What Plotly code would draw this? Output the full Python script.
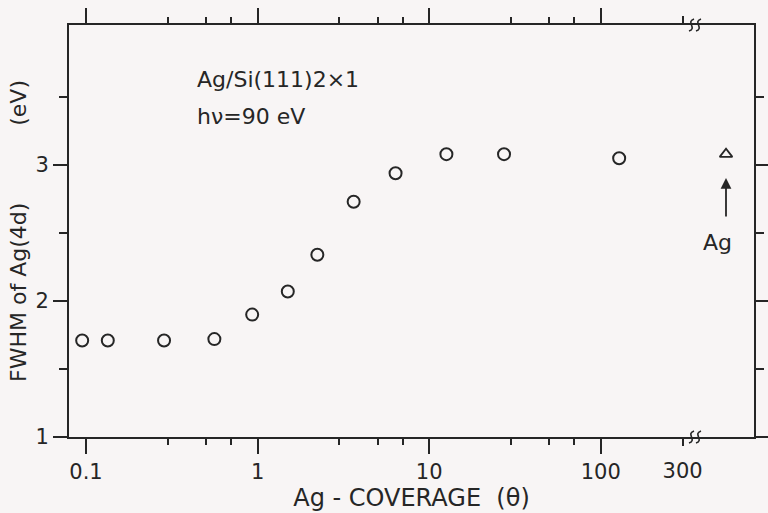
import plotly.graph_objects as go

# ---- data ----
coverage = [0.095, 0.134, 0.285, 0.56, 0.93, 1.5, 2.23, 3.63, 6.37, 12.6, 27.3, 128]
fwhm = [1.71, 1.71, 1.71, 1.72, 1.90, 2.07, 2.34, 2.73, 2.94, 3.08, 3.08, 3.05]
bulk_pos = [537]      # bulk Ag plotted beyond the axis break
bulk_fwhm = [3.08]

major_x = [0.1, 1, 10, 100]
major_x_text = ["0.1", "1", "10", "100"]
minor_x = [0.3, 0.5, 0.7, 3, 5, 7, 30, 50, 70]
extra_x = [300]
extra_x_text = ["300"]
major_y = [1, 2, 3]
minor_y = [1.5, 2.5, 3.5]

W, H = 768, 513
L, R, T, B = 69, 14, 25, 76
INK = "#262626"
BG = "#f8f5f5"
FONT = "DejaVu Sans"

fig = go.Figure()
fig.add_trace(go.Scatter(
    x=coverage, y=fwhm, mode="markers",
    marker=dict(symbol="circle-open", size=12, color=INK, line=dict(width=2, color=INK)),
    showlegend=False, hoverinfo="skip"))
fig.add_trace(go.Scatter(
    x=bulk_pos, y=bulk_fwhm, mode="markers",
    marker=dict(symbol="triangle-up-open", size=11, color=INK, line=dict(width=1.8, color=INK)),
    showlegend=False, hoverinfo="skip"))

xr = [-1.099, 2.893]
fig.update_layout(
    width=W, height=H,
    margin=dict(l=L, r=R, t=T, b=B, autoexpand=False),
    paper_bgcolor=BG, plot_bgcolor=BG,
    font=dict(family=FONT, color=INK, size=21),
    xaxis=dict(
        type="log", range=xr, showgrid=False, zeroline=False,
        showline=True, linecolor=INK, linewidth=2, mirror="ticks",
        tickmode="array", tickvals=major_x, ticktext=major_x_text,
        ticks="outside", ticklen=15, tickwidth=2, tickcolor=INK,
        ticklabelstandoff=0,
        tickfont=dict(size=21),
        minor=dict(tickmode="array", tickvals=minor_x, ticks="outside",
                   ticklen=6, tickwidth=1.6, tickcolor=INK, showgrid=False),
        title=dict(text="Ag\u00a0-\u00a0COVERAGE\u00a0\u00a0(θ)", font=dict(size=24), standoff=0),
    ),
    xaxis2=dict(
        type="log", range=xr, overlaying="x", anchor="y", side="bottom",
        showgrid=False, zeroline=False, showline=False, mirror="ticks",
        tickmode="array", tickvals=extra_x, ticktext=extra_x_text,
        ticks="outside", ticklen=8, tickwidth=1.6, tickcolor=INK,
        ticklabelstandoff=7, tickfont=dict(size=21),
    ),
    yaxis=dict(
        range=[1, 4.03], showgrid=False, zeroline=False,
        showline=True, linecolor=INK, linewidth=2, mirror="ticks",
        tickmode="array", tickvals=major_y, ticks="outside",
        ticklen=14, tickwidth=2, tickcolor=INK,
        tickfont=dict(size=21), ticklabelstandoff=0,
        minor=dict(tickmode="array", tickvals=minor_y, ticks="outside",
                   ticklen=8, tickwidth=1.6, tickcolor=INK, showgrid=False),
        title=dict(text="\u00a0" + "FWHM of Ag(4d)" + "\u00a0" * 11 + "(eV)",
                   font=dict(size=22), standoff=3),
    ),
)

# dummy trace on xaxis2 so the axis is drawn
fig.add_trace(go.Scatter(x=[], y=[], xaxis="x2", showlegend=False))

def px2paper(px, py):
    return (px - L) / (W - L - R), (H - B - py) / (H - T - B)

# axis-break squiggles on the top and bottom frame lines
shapes = []
for py in (25, 437):
    for cx in (691.5, 698.5):
        pts = [(cx - 2.5, py + 6), (cx + 6, py + 3), (cx - 6, py - 3), (cx + 2.5, py - 6)]
        pp = [px2paper(a, b) for a, b in pts]
        path = "M {} {} C {} {}, {} {}, {} {}".format(*[v for p in pp for v in p])
        shapes.append(dict(type="path", path=path, xref="paper", yref="paper",
                           line=dict(color=INK, width=1.6)))
fig.update_layout(shapes=shapes)

ax0, ay0 = px2paper(195, 79)
ax1, ay1 = px2paper(195, 116)
hx, hy = px2paper(726, 178)
tx, ty = px2paper(717, 242)
fig.update_layout(annotations=[
    dict(text="Ag/Si(111)2×1", x=ax0, y=ay0, xref="paper", yref="paper",
         xanchor="left", yanchor="middle", showarrow=False, font=dict(size=22)),
    dict(text="hν=90 eV", x=ax1, y=ay1, xref="paper", yref="paper",
         xanchor="left", yanchor="middle", showarrow=False, font=dict(size=22)),
    dict(text="", x=hx, y=hy, xref="paper", yref="paper", ax=0, ay=40,
         showarrow=True, arrowhead=2, arrowsize=1.2, arrowwidth=1.8, arrowcolor=INK),
    dict(text="Ag", x=tx, y=ty, xref="paper", yref="paper",
         xanchor="center", yanchor="middle", showarrow=False, font=dict(size=22)),
])

fig.write_html("out.html")
